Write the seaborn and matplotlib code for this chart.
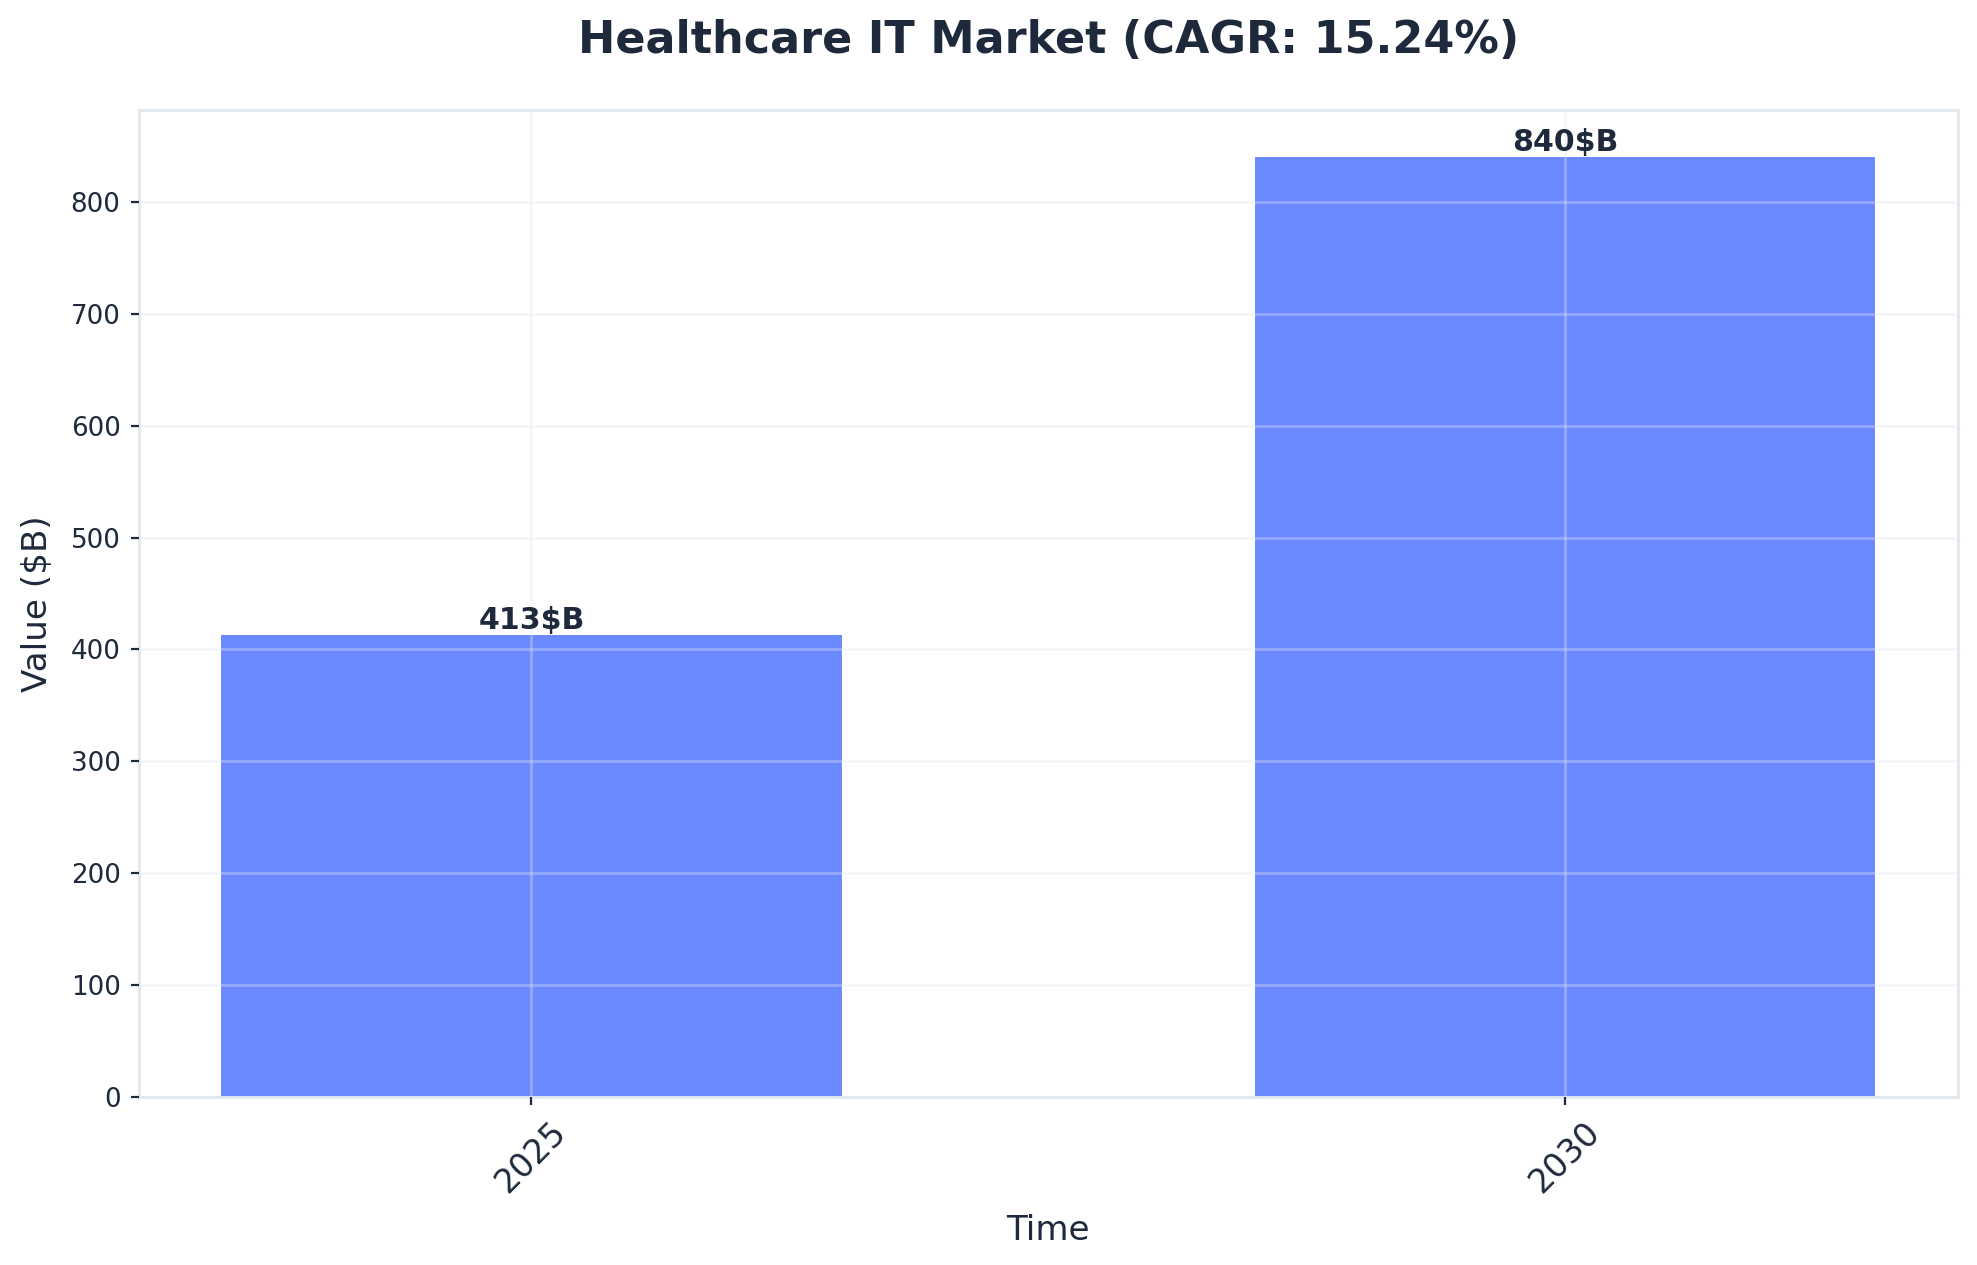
import matplotlib
matplotlib.use("Agg")
import matplotlib.pyplot as plt
import seaborn as sns

# Data
YEARS = ["2025", "2030"]
VALUES = [413, 840]
UNIT = "$B"
TITLE = "Healthcare IT Market (CAGR: 15.24%)"

# Style
BAR_COLOR = "#6b8aff"
TEXT_COLOR = "#1e293b"
SPINE_COLOR = "#e2e8f0"
DPI = 200


def main():
    sns.set_style("white")
    plt.rcParams['font.family'] = ['DejaVu Sans']

    fig = plt.figure(figsize=(1977 / DPI, 1265 / DPI), dpi=DPI)
    ax = fig.add_axes([0.0701, 0.1328, 0.9203, 0.7802])

    sns.barplot(x=YEARS, y=VALUES, color=BAR_COLOR, saturation=1,
                width=0.6, linewidth=0, edgecolor='none', ax=ax, zorder=1)

    # value labels on top of bars
    for i, v in enumerate(VALUES):
        ax.text(i, v, f"{v}{UNIT}", ha='center', va='bottom',
                fontsize=10.8, fontweight='bold', color=TEXT_COLOR, zorder=3)

    ax.set_xlim(-0.38, 1.38)
    ax.set_ylim(0, max(VALUES) * 1.05)

    ax.grid(True, color=SPINE_COLOR, alpha=0.35, linewidth=1.0, zorder=2)
    ax.set_axisbelow(False)

    for spine in ax.spines.values():
        spine.set_visible(True)
        spine.set_color(SPINE_COLOR)
        spine.set_linewidth(1.0)

    ax.tick_params(axis='both', colors=TEXT_COLOR, length=3, width=0.8,
                   direction='out', bottom=True, left=True)
    ax.tick_params(axis='y', labelsize=9.4)
    ax.tick_params(axis='x', labelsize=12)
    plt.setp(ax.get_xticklabels(), rotation=45)

    ax.set_xlabel("Time", fontsize=12.3, color=TEXT_COLOR, labelpad=5.5)
    ax.set_ylabel("Value ($B)", fontsize=12.3, color=TEXT_COLOR, labelpad=6)
    ax.set_title(TITLE, fontsize=16, fontweight='bold', color=TEXT_COLOR, pad=20.5)

    fig.savefig("out.png", dpi=DPI)


if __name__ == "__main__":
    main()
